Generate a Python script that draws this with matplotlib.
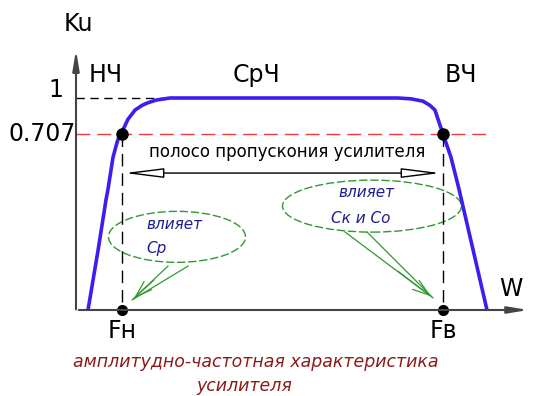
import numpy as np
import matplotlib.pyplot as plt
from matplotlib.patches import Ellipse

# frequency-response curve of the amplifier (schematic, x in drawing units, Ku relative)
curve_x = [12, 22, 30, 32, 37, 41, 44, 48, 52, 59, 66, 71, 80, 94,
           322, 335, 347, 354, 359, 362, 367, 375, 383, 411]
curve_ku = [0.0, 0.28, 0.52, 0.57, 0.72, 0.79, 0.83, 0.86, 0.9, 0.943, 0.965, 0.976, 0.99, 1.0,
            1.0, 0.996, 0.985, 0.965, 0.943, 0.9, 0.83, 0.72, 0.57, 0.0]

f_low = 46
f_high = 367
ku_one = 1.0
ku_707 = 0.83          # drawn level of 0.707 on the schematic
band_level = 0.646
tick_labels = ['1', '0.707']
region_labels = ['НЧ', 'СрЧ', 'ВЧ']
region_x = [30, 180, 385]

blue = '#3c1ef0'
red = '#f03a3a'
green = '#2f9a2f'
navy = '#1c1c90'
darkred = '#8b1a1a'
font = ['DejaVu Sans']

fig = plt.figure(figsize=(5.33, 3.96), dpi=100)
ax = fig.add_axes([0, 0, 1, 1])
ax.set_xlim(-76, 457)
ax.set_ylim(-86 / 212, 310 / 212)
ax.axis('off')

# axes arrows
ax.annotate('', xy=(0, 1.24), xytext=(0, -0.01),
            arrowprops=dict(arrowstyle='-|>,head_length=1.2,head_width=0.2', color='#444444', lw=1.5))
ax.annotate('', xy=(455, 0), xytext=(0, 0),
            arrowprops=dict(arrowstyle='-|>,head_length=1.2,head_width=0.2', color='#444444', lw=1.5))
ax.text(2, 1.35, 'Ku', fontsize=17, family=font, ha='center', va='center')
ax.text(435, 0.1, 'W', fontsize=17, family=font, ha='center', va='center')

# reference levels
ax.plot([0, 94], [ku_one, ku_one], color='black', lw=1, dashes=(6, 4))
ax.plot([0, 410], [ku_707, ku_707], color=red, lw=1, dashes=(10, 5))
ax.text(-20, ku_one + 0.04, tick_labels[0], fontsize=17, family=font, ha='center', va='center')
ax.text(-34, ku_707, tick_labels[1], fontsize=17, family=font, ha='center', va='center')

# curve
ax.plot(curve_x, curve_ku, color=blue, lw=2.6, solid_capstyle='butt')

for lab, xx in zip(region_labels, region_x):
    ax.text(xx, 1.11, lab, fontsize=17, family=font, ha='center', va='center')

# cut-off frequencies
for xx in (f_low, f_high):
    ax.plot([xx, xx], [ku_707, 0], color='black', lw=1, dashes=(9, 5))
    ax.plot([xx], [ku_707], 'o', color='black', ms=8)
    ax.plot([xx], [0], 'o', color='black', ms=7)
ax.text(f_low, -0.1, 'Fн', fontsize=17, family=font, ha='center', va='center')
ax.text(f_high, -0.1, 'Fв', fontsize=17, family=font, ha='center', va='center')

# pass band
ax.annotate('', xy=(f_high, band_level), xytext=(f_low, band_level),
            arrowprops=dict(arrowstyle='<|-|>,head_length=2.4,head_width=0.3',
                            fc='white', ec='black', lw=1))
ax.text(211, 0.745, 'полосо пропускония усилителя', fontsize=12, family=font,
        ha='center', va='center')

# annotations with ellipses
ax.add_patch(Ellipse((101, 0.345), 137, 51 / 212, fill=False, ec=green, lw=1, ls=(0, (6, 2))))
ax.add_patch(Ellipse((296, 0.49), 179, 52 / 212, fill=False, ec=green, lw=1, ls=(0, (6, 2))))
ax.text(70, 0.405, 'влияет', fontsize=11, family=font, style='italic', color=navy, va='center')
ax.text(70, 0.29, 'Ср', fontsize=11, family=font, style='italic', color=navy, va='center')
ax.text(262, 0.555, 'влияет', fontsize=11, family=font, style='italic', color=navy, va='center')
ax.text(255, 0.43, 'Ск и Со', fontsize=11, family=font, style='italic', color=navy, va='center')
ax.plot([92, 56, 112], [0.207, 0.047, 0.207], color=green, lw=0.9)
ax.plot([269, 357, 291], [0.368, 0.057, 0.368], color=green, lw=0.9)
ax.annotate('', xy=(56, 0.047), xytext=(80, 0.15),
            arrowprops=dict(arrowstyle='->,head_length=1.2,head_width=0.4', color=green, lw=0.9))
ax.annotate('', xy=(357, 0.057), xytext=(320, 0.19),
            arrowprops=dict(arrowstyle='->,head_length=1.2,head_width=0.4', color=green, lw=0.9))

# caption
ax.text(180, -0.245, 'амплитудно-частотная характеристика', fontsize=12.5, family=font,
        style='italic', color=darkred, ha='center', va='center')
ax.text(168, -0.36, 'усилителя', fontsize=12.5, family=font,
        style='italic', color=darkred, ha='center', va='center')

fig.savefig('out.png', dpi=100)
